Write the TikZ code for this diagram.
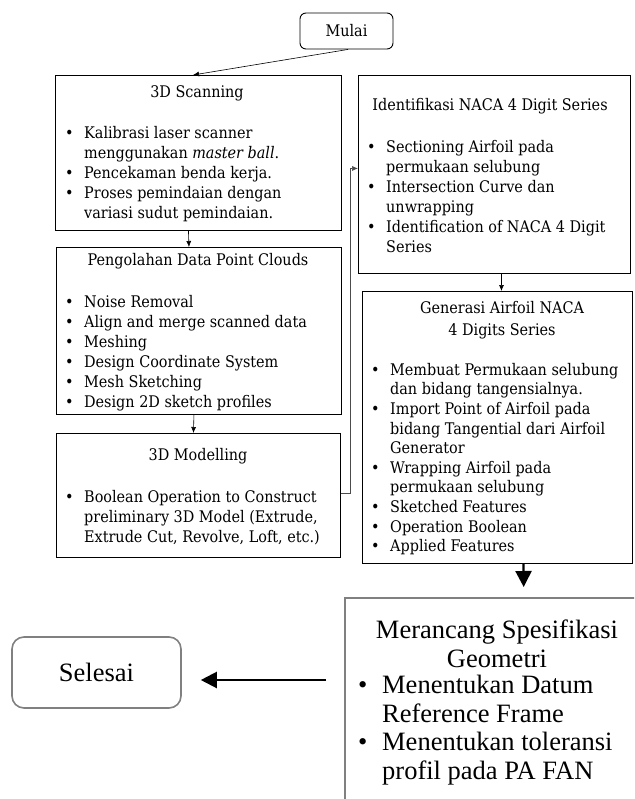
\documentclass[tikz,border=0pt]{standalone}
\usepackage{fontspec}
\setmainfont{DejaVu Serif Condensed}
\newfontfamily\timesfont{Liberation Serif}
\usetikzlibrary{positioning, arrows.meta}

\tikzset{
  box/.style = {draw, line width=0.9pt, anchor=north west, inner sep=0pt},
  greybox/.style = {draw=gray, line width=1.6pt, inner sep=0pt},
  head/.style = {font=\fontsize{16}{22}\selectfont, align=center, inner sep=0pt},
  list/.style = {font=\fontsize{16}{20}\selectfont, align=left, anchor=north west, inner sep=0pt},
  biglist/.style = {font=\timesfont\fontsize{26.5}{28.5}\selectfont, inner sep=0pt},
  link/.style = {-{Latex[length=6pt,width=5pt]}, line width=0.6pt},
  bigarrow/.style = {-{Triangle[length=16pt,width=16pt]}, line width=2.2pt}
}
\newcommand{\bul}[1]{\makebox[19pt][l]{\textbullet}#1}
\newcommand{\cont}[1]{\hspace*{19pt}#1}

\begin{document}
\begin{tikzpicture}[x=1pt, y=-1pt]
\useasboundingbox (0,0) rectangle (634,799);
\clip (0,0) rectangle (634,799);

\node[box, rounded corners=6pt, minimum width=93pt, minimum height=36pt, anchor=center,
  font=\fontsize{16}{18}\selectfont] (mulai) at (346.5,31) {Mulai};

\node[box, minimum width=286pt, minimum height=155pt] (scan) at (55,75) {};
\node[head] (scanhead) at (197,93) {3D Scanning};
\node[list] (scanlist) at (65,126) {\bul{Kalibrasi laser scanner}\\
  \cont{menggunakan \textit{master ball}.}\\
  \bul{Pencekaman benda kerja.}\\
  \bul{Proses pemindaian dengan}\\
  \cont{variasi sudut pemindaian.}};

\node[box, minimum width=285pt, minimum height=167pt] (cloud) at (56,247) {};
\node[head] (cloudhead) at (198,261) {Pengolahan Data Point Clouds};
\node[list] (cloudlist) at (65,295) {\bul{Noise Removal}\\
  \bul{Align and merge scanned data}\\
  \bul{Meshing}\\
  \bul{Design Coordinate System}\\
  \bul{Mesh Sketching}\\
  \bul{Design 2D sketch profiles}};

\node[box, minimum width=284pt, minimum height=124pt] (model) at (56,433) {};
\node[head] (modelhead) at (198,456) {3D Modelling};
\node[list] (modellist) at (65,490) {\bul{Boolean Operation to Construct}\\
  \cont{preliminary 3D Model (Extrude,}\\
  \cont{Extrude Cut, Revolve, Loft, etc.)}};

\node[box, minimum width=272pt, minimum height=198pt] (naca) at (358,75) {};
\node[head] (nacahead) at (490,106) {Identifikasi NACA 4 Digit Series};
\node[list] (nacalist) at (367,140) {\bul{Sectioning Airfoil pada}\\
  \cont{permukaan selubung}\\
  \bul{Intersection Curve dan}\\
  \cont{unwrapping}\\
  \bul{Identification of NACA 4 Digit}\\
  \cont{Series}};

\node[box, minimum width=270pt, minimum height=272pt] (gen) at (362,291) {};
\node[head] (genhead) at (502,320) {Generasi Airfoil NACA\\4 Digits Series};
\node[list, font=\fontsize{16}{19.6}\selectfont] (genlist) at (371,363) {\bul{Membuat Permukaan selubung}\\
  \cont{dan bidang tangensialnya.}\\
  \bul{Import Point of Airfoil pada}\\
  \cont{bidang Tangential dari Airfoil}\\
  \cont{Generator}\\
  \bul{Wrapping Airfoil pada}\\
  \cont{permukaan selubung}\\
  \bul{Sketched Features}\\
  \bul{Operation Boolean}\\
  \bul{Applied Features}};

\node[greybox, minimum width=306pt, minimum height=233pt, anchor=north west] (spec) at (344,597) {};
\node[biglist, align=center, anchor=north] (spechead) at (497,620) {Merancang Spesifikasi\\Geometri};
\node[biglist, align=left, anchor=north west] (speclist) at (358,675) {\makebox[24pt][l]{\textbullet}Menentukan Datum\\
  \hspace*{24pt}Reference Frame\\
  \makebox[24pt][l]{\textbullet}Menentukan toleransi\\
  \hspace*{24pt}profil pada PA FAN};

\node[greybox, rounded corners=12pt, minimum width=169pt, minimum height=71pt,
  font=\timesfont\fontsize{26.5}{28}\selectfont] (selesai) at (96.5,672.5) {Selesai};

\coordinate (scanin) at (193,75);
\draw[link] ([xshift=1.5pt]mulai.south) -- (scanin);
\draw[link] ([xshift=-10pt]scan.south) -- ([xshift=-10pt]cloud.north);
\draw[link] ([xshift=-5pt]cloud.south) -- ([xshift=-5pt]model.north);
\draw[link, draw=black!70] ([yshift=2pt]model.east) -- ++(9,0) |- ([yshift=6pt]naca.west);
\draw[link] ([xshift=7pt]naca.south) -- ([xshift=4pt]gen.north);
\draw[bigarrow, shorten >=10pt] ([xshift=26pt]gen.south) -- ([xshift=26pt]spec.north);
\draw[bigarrow, shorten <=18pt, shorten >=19pt] ([yshift=-7.5pt]selesai.east -| spec.west) -- ([yshift=-7.5pt]selesai.east);
\end{tikzpicture}
\end{document}
